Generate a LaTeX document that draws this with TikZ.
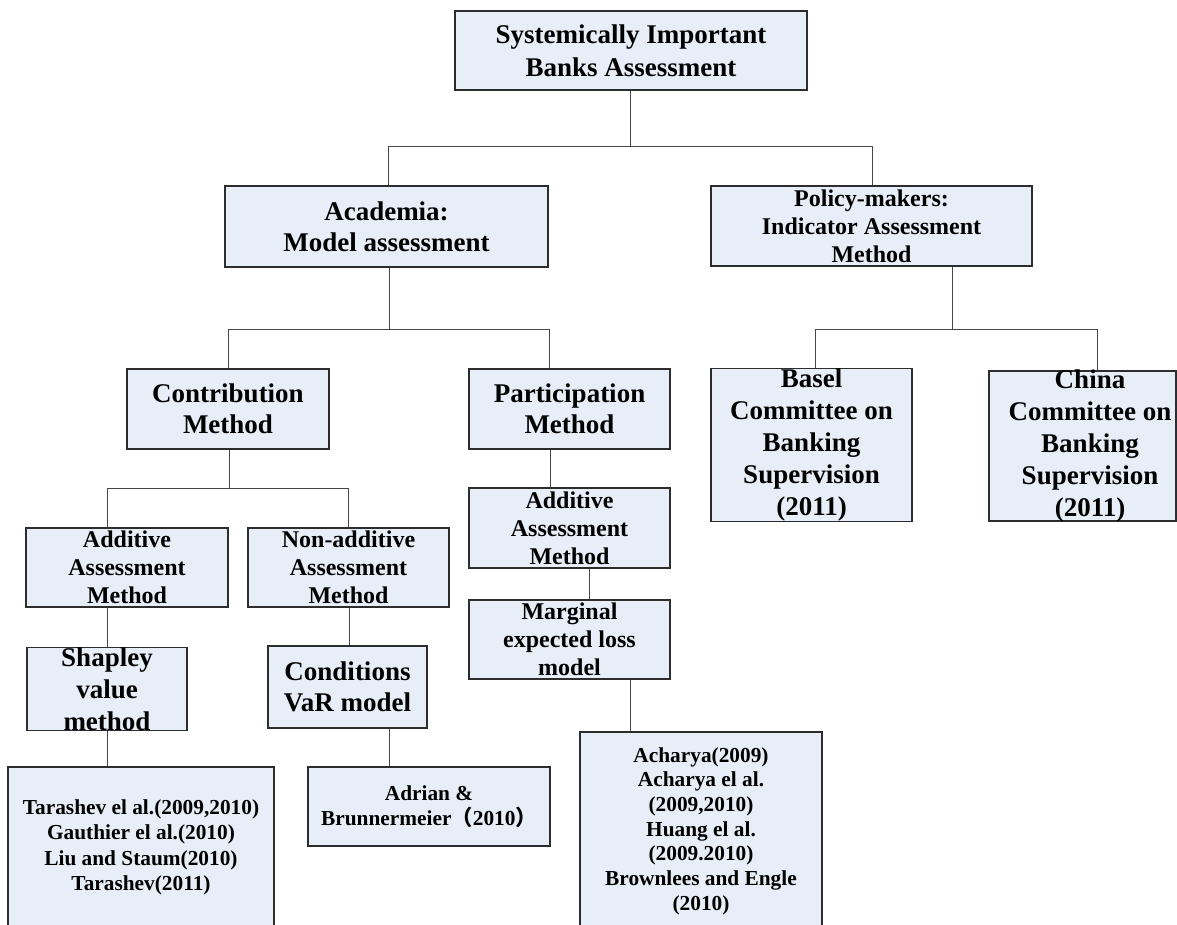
\documentclass[tikz,border=0pt]{standalone}
\usepackage{fontspec}
\setmainfont{Liberation Serif}
\newfontfamily\cjkfont{Noto Sans CJK SC}
\definecolor{boxfill}{RGB}{232,238,248}
\definecolor{boxline}{RGB}{45,45,45}
\definecolor{connline}{RGB}{70,70,70}
\tikzset{
  box/.style={draw=boxline, fill=boxfill, line width=0.9pt, inner sep=0pt, align=center},
  fA/.style={font=\bfseries\fontsize{20.25pt}{23.25pt}\selectfont},
  fT/.style={font=\bfseries\fontsize{20.25pt}{24.75pt}\selectfont},
  fP/.style={font=\bfseries\fontsize{18pt}{21pt}\selectfont},
  fS/.style={font=\bfseries\fontsize{16pt}{19pt}\selectfont},
  fB/.style={font=\bfseries\fontsize{20.25pt}{24pt}\selectfont},
  conn/.style={draw=connline, line width=0.75pt},
}
\begin{document}
\begin{tikzpicture}[x=0.75pt, y=-0.75pt]
\useasboundingbox (0,0) rectangle (1177,924);
\fill[white] (0,0) rectangle (1177,924);

% boxes
\node[box, fT, minimum width=264pt, minimum height=59.25pt] (top) at (631,50.5)
  {Systemically Important\\Banks Assessment};
\node[box, fA, minimum width=242.25pt, minimum height=60.75pt] (acad) at (386.5,226.5)
  {Academia:\\Model assessment};
\node[box, fP, minimum width=240.75pt, minimum height=60pt] (policy) at (871.5,226)
  {Policy-makers:\\Indicator Assessment\\Method};
\node[box, fA, minimum width=151.5pt, minimum height=60pt] (contrib) at (228,409)
  {Contribution\\Method};
\node[box, fA, minimum width=150.75pt, minimum height=60pt] (partic) at (569.5,409)
  {Participation\\Method};
\node[box, fB, minimum width=150.75pt, minimum height=114pt] (basel) at (811.5,445)
  {Basel\\Committee on\\Banking\\Supervision\\(2011)};
\node[box, minimum width=140.25pt, minimum height=112.5pt] (china) at (1082.5,446) {};
\node[fB, align=center, inner sep=0pt] (chinatext) at (1090,446)
  {China\\Committee on\\Banking\\Supervision\\(2011)};
\node[box, fP, minimum width=151.5pt, minimum height=59.25pt] (addA) at (127,567.5)
  {Additive\\Assessment\\Method};
\node[box, fP, minimum width=150.75pt, minimum height=59.25pt] (nonadd) at (348.5,567.5)
  {Non-additive\\Assessment\\Method};
\node[box, fP, minimum width=150.75pt, minimum height=60pt] (addB) at (569.5,528)
  {Additive\\Assessment\\Method};
\node[box, fB, minimum width=120pt, minimum height=61.5pt] (shapley) at (107,689)
  {Shapley\\value\\method};
\node[box, fA, minimum width=119.25pt, minimum height=61.5pt] (cond) at (347.5,687)
  {Conditions\\VaR model};
\node[box, fP, minimum width=150.75pt, minimum height=59.25pt] (marg) at (569.5,639.5)
  {Marginal\\expected loss\\model};
\node[box, fS, minimum width=199.5pt, minimum height=120.75pt] (tara) at (141,847.5)
  {Tarashev el al.(2009,2010)\\Gauthier el al.(2010)\\Liu and Staum(2010)\\Tarashev(2011)};
\node[box, fS, minimum width=181.5pt, minimum height=59.25pt] (adrian) at (429,806.5)
  {Adrian \&\\Brunnermeier{\cjkfont （}2010{\cjkfont ）}};
\node[box, fS, font=\bfseries\fontsize{16pt}{18.5pt}\selectfont, minimum width=181.5pt, minimum height=148.5pt] (acharya) at (701,831)
  {Acharya(2009)\\Acharya el al.\\(2009,2010)\\Huang el al.\\(2009.2010)\\Brownlees and Engle\\(2010)};

% junction coordinates
\coordinate (j1M) at (630,146);
\coordinate (j1L) at (388,146);
\coordinate (j1R) at (872,146);
\coordinate (j2M) at (389,329);
\coordinate (j2L) at (228,329);
\coordinate (j2R) at (549,329);
\coordinate (j3M) at (952,329);
\coordinate (j3L) at (815,329);
\coordinate (j3R) at (1097,329);
\coordinate (j4M) at (229,488);
\coordinate (j4L) at (107,488);
\coordinate (j4R) at (348,488);
\coordinate (k1) at (550,470);
\coordinate (k2) at (589,585);
\coordinate (k3) at (107,630);
\coordinate (k4) at (349,630);
\coordinate (k5) at (107,750);
\coordinate (k6) at (389,750);
\coordinate (k7) at (630,700);

% connectors
\draw[conn] (top.south -| j1M) -- (j1M);
\draw[conn] (acad.north -| j1L) -- (j1L) -- (j1R) -- (policy.north -| j1R);
\draw[conn] (acad.south -| j2M) -- (j2M);
\draw[conn] (contrib.north -| j2L) -- (j2L) -- (j2R) -- (partic.north -| j2R);
\draw[conn] (policy.south -| j3M) -- (j3M);
\draw[conn] (basel.north -| j3L) -- (j3L) -- (j3R) -- (china.north -| j3R);
\draw[conn] (contrib.south -| j4M) -- (j4M);
\draw[conn] (addA.north -| j4L) -- (j4L) -- (j4R) -- (nonadd.north -| j4R);
\draw[conn] (partic.south -| k1) -- (addB.north -| k1);
\draw[conn] (addB.south -| k2) -- (marg.north -| k2);
\draw[conn] (addA.south -| k3) -- (shapley.north -| k3);
\draw[conn] (nonadd.south -| k4) -- (cond.north -| k4);
\draw[conn] (shapley.south -| k5) -- (tara.north -| k5);
\draw[conn] (cond.south -| k6) -- (adrian.north -| k6);
\draw[conn] (marg.south -| k7) -- (acharya.north -| k7);
\end{tikzpicture}
\end{document}
